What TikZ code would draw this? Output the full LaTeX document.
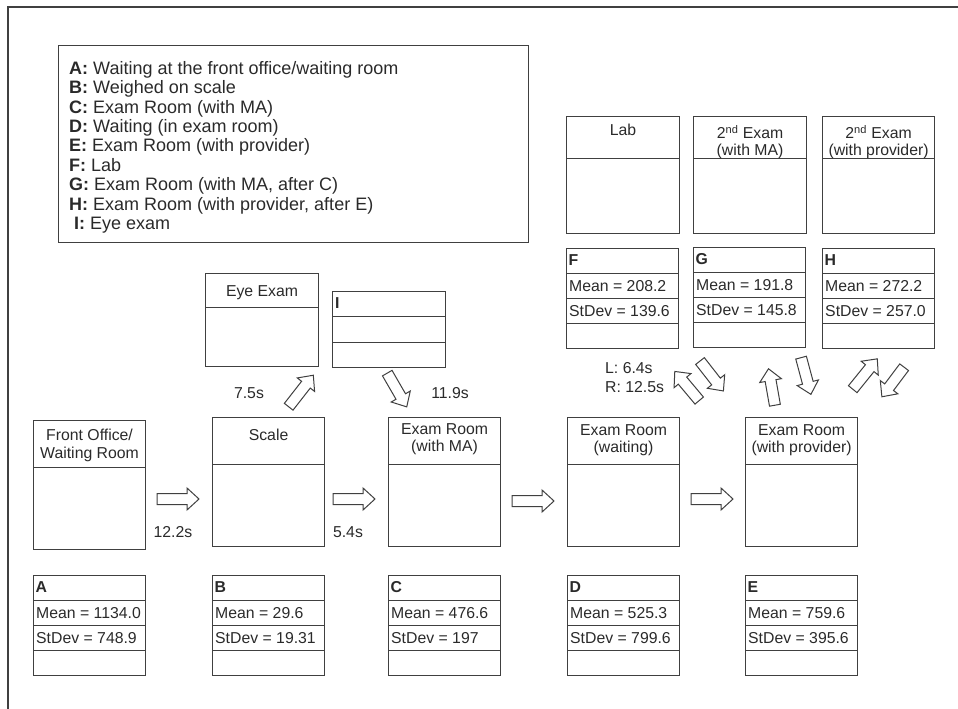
\documentclass[tikz,border=0pt]{standalone}
\usepackage{fontspec}
\setmainfont{Liberation Sans}
\usetikzlibrary{positioning,calc}
\definecolor{linegray}{HTML}{404040}
\definecolor{inkgray}{HTML}{2A2A2A}
\newcommand{\boxfont}{\fontsize{15.8}{17.5}\selectfont}
\newcommand{\keyfont}{\fontsize{18}{19.4}\selectfont}
\tikzset{
    every node/.style={font=\boxfont,text=inkgray},
    frame/.style={draw=linegray,line width=1.2pt},
    divider/.style={draw=linegray,line width=1.1pt},
    room/.style={draw=linegray,line width=1.1pt,anchor=north west,inner sep=0pt,
        minimum width=112pt,minimum height=129pt,
        path picture={\draw[divider] ([yshift=-#1]path picture bounding box.north west)
            -- ([yshift=-#1]path picture bounding box.north east);}},
    room/.default=47pt,
    stats/.style={draw=linegray,line width=1.1pt,anchor=north west,inner sep=0pt,
        minimum width=112pt,minimum height=100pt,
        path picture={\foreach \r in {#1}
            \draw[divider] ([yshift=-\r pt]path picture bounding box.north west)
            -- ([yshift=-\r pt]path picture bounding box.north east);}},
    stats/.default={25,50,75},
    keybox/.style={draw=linegray,line width=1.1pt,anchor=north west,inner sep=0pt,
        minimum width=470pt,minimum height=197pt},
    keytext/.style={anchor=north west,inner sep=0pt,align=left,font=\keyfont},
    header/.style={inner sep=0pt,align=center},
    entry/.style={anchor=west,inner sep=0pt},
    timing/.style={inner sep=0pt,align=left,font=\fontsize{15.8}{19.3}\selectfont},
    pics/flowarrow/.style={code={
        \draw[draw=linegray,line width=1pt,fill=white]
            (-#1/2,-5.5) -- (#1/2-12,-5.5) -- (#1/2-12,-11) -- (#1/2,0)
            -- (#1/2-12,11) -- (#1/2-12,5.5) -- (-#1/2,5.5) -- cycle;}}
}
\begin{document}
\begin{tikzpicture}[x=1pt,y=-1pt]
\useasboundingbox (0,0) rectangle (958,709);
\draw[frame] (8,709) -- (8,7) -- (958,7);

% key to the letters
\node[keybox] (key) at (58,45) {};
\node[keytext] (keylist) at ([xshift=11pt,yshift=-16pt]key.north west)
    {\textbf{A:} Waiting at the front office/waiting room\\
     \textbf{B:} Weighed on scale\\
     \textbf{C:} Exam Room (with MA)\\
     \textbf{D:} Waiting (in exam room)\\
     \textbf{E:} Exam Room (with provider)\\
     \textbf{F:} Lab\\
     \textbf{G:} Exam Room (with MA, after C)\\
     \textbf{H:} Exam Room (with provider, after E)\\
     \hspace*{5pt}\textbf{I:} Eye exam};

% main row of rooms
\node[room] (front) at (33,420) {};
\node[header,below=9pt of front.north] {Front Office/\\Waiting Room};
\node[room] (scale) at (212,417) {};
\node[header,below=12pt of scale.north] {Scale};
\node[room] (examma) at (388,417) {};
\node[header,below=6pt of examma.north] {Exam Room\\(with MA)};
\node[room] (examwait) at (567,417) {};
\node[header,below=7pt of examwait.north] {Exam Room\\(waiting)};
\node[room] (exampv) at (745,417) {};
\node[header,below=7pt of exampv.north] {Exam Room\\(with provider)};

% side rooms
\node[room=34pt,minimum width=113pt,minimum height=93pt] (eye) at (205,273) {};
\node[header,below=12pt of eye.north] {Eye Exam};
\node[room=42pt,minimum width=113pt,minimum height=117pt] (lab) at (566,116) {};
\node[header,below=8pt of lab.north] {Lab};
\node[room=42pt,minimum width=113pt,minimum height=117pt] (secma) at (693,116) {};
\node[header,below=9pt of secma.north] {2\textsuperscript{nd} Exam\\(with MA)};
\node[room=42pt,minimum height=117pt] (secpv) at (822,116) {};
\node[header,below=9pt of secpv.north] {2\textsuperscript{nd} Exam\\(with provider)};

% statistics
\foreach \id/\x/\y/\m/\s in {A/33/575/1134.0/748.9, B/212/575/29.6/19.31,
        C/388/575/476.6/197, D/567/575/525.3/799.6, E/745/575/759.6/395.6,
        F/566/248/208.2/139.6, G/693/247/191.8/145.8, H/822/248/272.2/257.0} {
    \node[stats] (st\id) at (\x,\y) {};
    \node[entry,font=\boxfont\bfseries] at ([xshift=2.5pt,yshift=-12.5pt]st\id.north west) {\id};
    \node[entry] at ([xshift=3pt,yshift=-38pt]st\id.north west) {Mean = \m};
    \node[entry] at ([xshift=3pt,yshift=-63pt]st\id.north west) {StDev = \s};
}
\node[stats={25,51},minimum width=113pt,minimum height=76pt] (stI) at (332,291) {};
\node[entry,font=\boxfont\bfseries] at ([xshift=3pt,yshift=-12.5pt]stI.north west) {I};

% times
\node[timing] (t1) at (173,532) {12.2s};
\node[timing] (t2) at (348,532) {5.4s};
\node[timing] (t3) at (249,393) {7.5s};
\node[timing] (t4) at (450,393) {11.9s};
\node[timing,anchor=north west] (t5) at (605,362) {L: 6.4s\\R: 12.5s};

% block arrows
\pic at (178,499) {flowarrow=42};
\pic at (354,499) {flowarrow=42};
\pic at (533,501) {flowarrow=42};
\pic at (712,499) {flowarrow=42};
\pic[rotate=52] at (301,391) {flowarrow=40};
\pic[rotate=-60] at (397,390) {flowarrow=39};
\pic[rotate=130] at (687,386) {flowarrow=38};
\pic[rotate=-52] at (711.7,376) {flowarrow=38};
\pic[rotate=100] at (771.7,387) {flowarrow=37};
\pic[rotate=-75] at (806,376) {flowarrow=38};
\pic[rotate=51] at (865,374) {flowarrow=39};
\pic[rotate=233] at (893,382) {flowarrow=37};
\end{tikzpicture}
\end{document}
